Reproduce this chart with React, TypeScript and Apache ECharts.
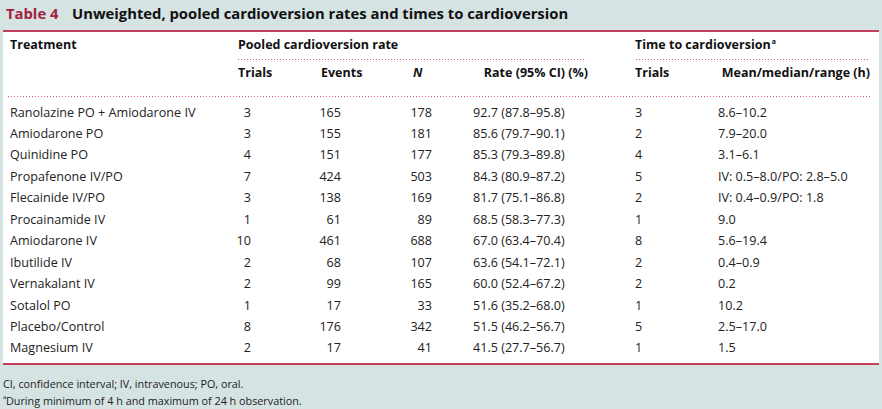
import React, { useEffect, useRef } from "react";
import * as echarts from "echarts";

const titleLabel = "Table 4";
const titleText = "Unweighted, pooled cardioversion rates and times to cardioversion";
const treatments = [
  "Ranolazine PO + Amiodarone IV",
  "Amiodarone PO",
  "Quinidine PO",
  "Propafenone IV/PO",
  "Flecainide IV/PO",
  "Procainamide IV",
  "Amiodarone IV",
  "Ibutilide IV",
  "Vernakalant IV",
  "Sotalol PO",
  "Placebo/Control",
  "Magnesium IV",
];
const trials = [3, 3, 4, 7, 3, 1, 10, 2, 2, 1, 8, 2];
const events = [165, 155, 151, 424, 138, 61, 461, 68, 99, 17, 176, 17];
const totals = [178, 181, 177, 503, 169, 89, 688, 107, 165, 33, 342, 41];
const rateValues = [92.7, 85.6, 85.3, 84.3, 81.7, 68.5, 67.0, 63.6, 60.0, 51.6, 51.5, 41.5];
const ciLow = [87.8, 79.7, 79.3, 80.9, 75.1, 58.3, 63.4, 54.1, 52.4, 35.2, 46.2, 27.7];
const ciHigh = [95.8, 90.1, 89.8, 87.2, 86.8, 77.3, 70.4, 72.1, 67.2, 68.0, 56.7, 56.7];
const timeTrials = [3, 2, 4, 5, 2, 1, 8, 2, 2, 1, 5, 1];
const timeRanges = [
  "8.6–10.2",
  "7.9–20.0",
  "3.1–6.1",
  "IV: 0.5–8.0/PO: 2.8–5.0",
  "IV: 0.4–0.9/PO: 1.8",
  "9.0",
  "5.6–19.4",
  "0.4–0.9",
  "0.2",
  "10.2",
  "2.5–17.0",
  "1.5",
];
const footnotes = [
  "CI, confidence interval; IV, intravenous; PO, oral.",
  "During minimum of 4 h and maximum of 24 h observation.",
];

const FONT = "'Open Sans', Lato, sans-serif";
const RED = "#c23f5a";
const DARKRED = "#a3233d";
const DOT = "#d45a76";

export default function App() {
  const ref = useRef<HTMLDivElement>(null);
  useEffect(() => {
    if (!ref.current) return;
    const chart = echarts.init(ref.current, null, { renderer: "svg" });
    const els: any[] = [];
    const txt = (x: number, y: number, text: string, opts: any = {}) => {
      els.push({
        type: "text",
        x,
        y,
        style: {
          text,
          fontFamily: FONT,
          fontSize: 12.6,
          fill: "#222222",
          verticalAlign: "middle",
          align: "left",
          ...opts,
        },
      });
    };
    const dotted = (x1: number, x2: number, y: number) => {
      els.push({
        type: "line",
        shape: { x1, y1: y, x2, y2: y },
        style: { stroke: DOT, lineWidth: 1, lineDash: [1, 2] },
      });
    };
    // panel
    els.push({ type: "rect", shape: { x: 3, y: 31, width: 876, height: 333 }, style: { fill: "#ffffff" } });
    els.push({ type: "rect", shape: { x: 3, y: 30, width: 876, height: 2 }, style: { fill: RED } });
    els.push({ type: "rect", shape: { x: 3, y: 363, width: 876, height: 2 }, style: { fill: RED } });
    // title
    txt(6, 12.5, titleLabel, { fontSize: 14.8, fontWeight: "bold", fill: DARKRED });
    txt(72, 12.5, titleText, { fontSize: 14.8, fontWeight: "bold", fill: "#111" });
    // headers
    const hb = { fontWeight: "bold", fontSize: 12.5, fill: "#111" };
    txt(10, 44.5, "Treatment", hb);
    txt(238, 44.5, "Pooled cardioversion rate", hb);
    els.push({
      type: "text",
      x: 635,
      y: 44.5,
      style: {
        text: "Time to cardioversion{s|a}",
        fontFamily: FONT,
        fontSize: 12.5,
        fontWeight: "bold",
        fill: "#111",
        verticalAlign: "middle",
        rich: { s: { fontSize: 7, fontWeight: "bold", fontFamily: FONT, verticalAlign: "top", fill: "#111", padding: [0, 0, 6, 1] } },
      },
    });
    dotted(238, 586, 59.5);
    dotted(636, 870, 59.5);
    txt(238, 72.5, "Trials", hb);
    txt(321, 72.5, "Events", hb);
    txt(413, 72.5, "N", { ...hb, fontStyle: "italic" });
    txt(588, 72.5, "Rate (95% CI) (%)", { ...hb, align: "right" });
    txt(635, 72.5, "Trials", hb);
    txt(870, 72.5, "Mean/median/range (h)", { ...hb, align: "right" });
    dotted(8, 870, 96.5);
    // rows
    const row0 = 112;
    const step = 21.45;
    treatments.forEach((t, i) => {
      const y = row0 + i * step;
      txt(10, y, t);
      txt(251, y, String(trials[i]), { align: "right" });
      txt(341, y, String(events[i]), { align: "right" });
      txt(432, y, String(totals[i]), { align: "right" });
      txt(473, y, `${rateValues[i].toFixed(1)} (${ciLow[i].toFixed(1)}–${ciHigh[i].toFixed(1)})`);
      txt(635, y, String(timeTrials[i]));
      txt(718, y, timeRanges[i]);
    });
    // footnotes
    txt(3, 383, footnotes[0], { fontSize: 10.8 });
    txt(3, 397, "a", { fontSize: 6 });
    txt(6, 400, footnotes[1], { fontSize: 10.8 });

    chart.setOption({
      animation: false,
      backgroundColor: "#d6e3e3",
      graphic: { elements: els },
    });
    return () => chart.dispose();
  }, []);
  return <div ref={ref} style={{ position: "absolute", left: 0, top: 0, width: 882, height: 409 }} />;
}
